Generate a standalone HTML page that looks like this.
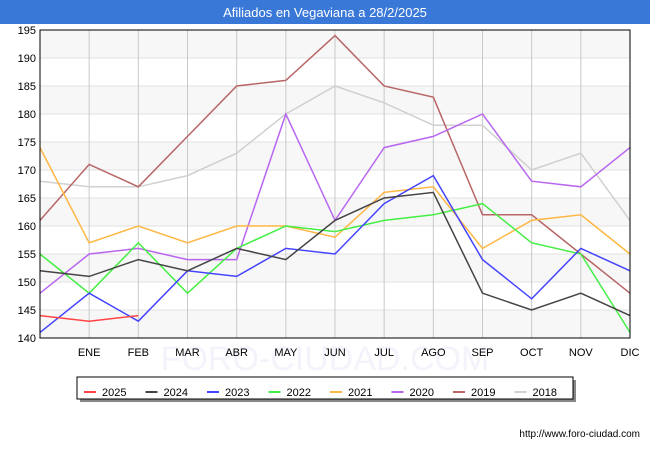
<!DOCTYPE html>
<html><head><meta charset="utf-8"><style>
body{margin:0;width:650px;height:450px;background:#fff;font-family:"Liberation Sans",sans-serif;overflow:hidden}
</style></head><body>
<svg width="650" height="450" font-family="Liberation Sans, sans-serif">
<rect x="0" y="0" width="650" height="24" fill="#3a78d8"/>
<text x="325" y="17" font-size="13" fill="#fff" text-anchor="middle">Afiliados en Vegaviana a 28/2/2025</text>
<g id="grid"></g>
<g id="series"></g>
<rect x="40" y="30" width="590" height="308" fill="none" stroke="#000"/>
<g id="legend"></g>
<text x="640" y="437" font-size="10" fill="#000" text-anchor="end">http://www.foro-ciudad.com</text>
</svg>
<script>
const categories=["","ENE","FEB","MAR","ABR","MAY","JUN","JUL","AGO","SEP","OCT","NOV","DIC"];
const yTicks=[140,145,150,155,160,165,170,175,180,185,190,195];
const seriesNames=["2025","2024","2023","2022","2021","2020","2019","2018"];
const seriesColors=["#ff4444","#444444","#4444ff","#44ee44","#ffb744","#b866f0","#b86666","#d0d0d0"];
const s2025=[144,143,144];
const s2024=[152,151,154,152,156,154,161,165,166,148,145,148,144];
const s2023=[141,148,143,152,151,156,155,164,169,154,147,156,152];
const s2022=[155,148,157,148,156,160,159,161,162,164,157,155,141];
const s2021=[174,157,160,157,160,160,158,166,167,156,161,162,155];
const s2020=[148,155,156,154,154,180,161,174,176,180,168,167,174];
const s2019=[161,171,167,176,185,186,194,185,183,162,162,155,148];
const s2018=[168,167,167,169,173,180,185,182,178,178,170,173,161];
const allSeries=[s2025,s2024,s2023,s2022,s2021,s2020,s2019,s2018];
const NS="http://www.w3.org/2000/svg";
const X0=40,X1=630,Y0=338,Y1=30,YMIN=140,YMAX=195;
const xs=i=>X0+i*(X1-X0)/(categories.length-1);
const ys=v=>Y0-(v-YMIN)*(Y0-Y1)/(YMAX-YMIN);
function mk(t,a,p){const e=document.createElementNS(NS,t);for(const k in a)e.setAttribute(k,a[k]);p.appendChild(e);return e;}
const g=document.getElementById('grid');
for(let i=0;i<yTicks.length-1;i++){
  if(i%2==0){const r=mk('rect',{x:X0,y:ys(yTicks[i+1]),width:X1-X0,height:ys(yTicks[i])-ys(yTicks[i+1]),fill:'#f7f7f7'},g);
  
  }
}
const wm=mk('text',{x:325,y:370,'font-size':34,fill:'#f3f4fb','text-anchor':'middle'},g);wm.textContent='FORO-CIUDAD.COM';


yTicks.forEach(v=>{
  const l=mk('line',{x1:X0,x2:X1,y1:ys(v),y2:ys(v),stroke:'#e0e0e0'},g);
  
  
  const t=mk('text',{x:X0-4,y:ys(v)+4,'font-size':11,'text-anchor':'end',fill:'#000'},g);t.textContent=v;
  
  
});
categories.forEach((c,i)=>{
  if(i==0)return;
  const l=mk('line',{x1:xs(i),x2:xs(i),y1:Y1,y2:Y0,stroke:'#c8c8c8'},g);
  
  
  const t=mk('text',{x:xs(i),y:356,'font-size':11,'text-anchor':'middle',fill:'#000'},g);t.textContent=c;
  
  
});
const sg=document.getElementById('series');
for(let k=allSeries.length-1;k>=0;k--){
  const pts=allSeries[k].map((v,i)=>xs(i)+','+ys(v)).join(' ');
  const p=mk('polyline',{points:pts,fill:'none',stroke:seriesColors[k],'stroke-width':1.5},sg);
  
  
}
const lg=document.getElementById('legend');
const sh=mk('rect',{x:80,y:380,width:496,height:22,fill:'#888'},lg);


const bx=mk('rect',{x:77,y:377,width:496,height:22,fill:'#fff',stroke:'#000'},lg);


seriesNames.forEach((n,k)=>{
  const x=84+k*61.5;
  const l=mk('line',{x1:x,x2:x+12,y1:392,y2:392,stroke:seriesColors[k],'stroke-width':2},lg);
  
  
  const t=mk('text',{x:x+18,y:396,'font-size':11,fill:'#000'},lg);t.textContent=n;
  
  
});
</script>
</body></html>
